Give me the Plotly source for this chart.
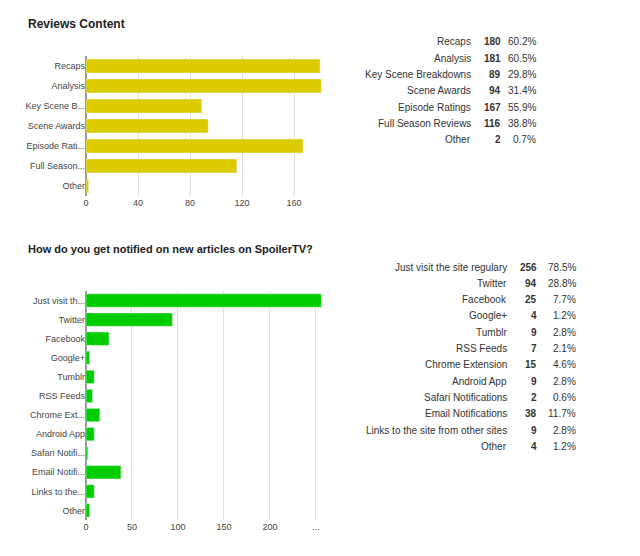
import plotly.graph_objects as go

W, H = 640, 556

# Reviews content
rev_labels = ["Recaps", "Analysis", "Key Scene Breakdowns", "Scene Awards",
              "Episode Ratings", "Full Season Reviews", "Other"]
rev_short = ["Recaps", "Analysis", "Key Scene B...", "Scene Awards",
             "Episode Rati...", "Full Season...", "Other"]
rev_counts = [180, 181, 89, 94, 167, 116, 2]
rev_pct = ["60.2%", "60.5%", "29.8%", "31.4%", "55.9%", "38.8%", "0.7%"]

# Notification channels
not_labels = ["Just visit the site regulary", "Twitter", "Facebook", "Google+", "Tumblr",
              "RSS Feeds", "Chrome Extension", "Android App", "Safari Notifications",
              "Email Notifications", "Links to the site from other sites", "Other"]
not_short = ["Just visit th...", "Twitter", "Facebook", "Google+", "Tumblr", "RSS Feeds",
             "Chrome Ext...", "Android App", "Safari Notifi...", "Email Notifi...",
             "Links to the...", "Other"]
not_counts = [256, 94, 25, 4, 9, 7, 15, 9, 2, 38, 9, 4]
not_pct = ["78.5%", "28.8%", "7.7%", "1.2%", "2.8%", "2.1%", "4.6%", "2.8%",
           "0.6%", "11.7%", "2.8%", "1.2%"]

def px_x(x):
    return x / W

def px_y(y):
    return 1 - y / H

fig = go.Figure()
fig.add_trace(go.Bar(x=rev_counts, y=rev_short, orientation="h",
                     marker_color="#dccb00", xaxis="x", yaxis="y"))
fig.add_trace(go.Bar(x=not_counts, y=not_short, orientation="h",
                     marker_color="#00cc00", xaxis="x2", yaxis="y2"))

axfont = dict(family="Arial", size=9, color="#444")
fig.update_layout(
    width=W, height=H, margin=dict(l=0, r=0, t=0, b=0),
    paper_bgcolor="white", plot_bgcolor="white", showlegend=False,
    bargap=0.3, font=dict(family="Arial"),
    xaxis=dict(domain=[px_x(78), px_x(318)], range=[0, 184.6], tickvals=[0, 40, 80, 120, 160],
               gridcolor="#ddd", zeroline=True, zerolinecolor="#999", tickfont=axfont,
               anchor="y", automargin=False),
    yaxis=dict(domain=[px_y(188), px_y(48)], autorange="reversed", tickfont=axfont,
               anchor="x", showgrid=False, ticks="", automargin=False),
    xaxis2=dict(domain=[px_x(78), px_x(318)], range=[0, 261],
                tickvals=[0, 50, 100, 150, 200, 250],
                ticktext=["0", "50", "100", "150", "200", "..."],
                gridcolor="#ddd", zeroline=True, zerolinecolor="#999", tickfont=axfont,
                anchor="y2", automargin=False),
    yaxis2=dict(domain=[px_y(512), px_y(283)], autorange="reversed", tickfont=axfont,
                anchor="x2", showgrid=False, ticks="", automargin=False),
)

ann = []
ann.append(dict(x=px_x(18), y=px_y(16), text="<b>Reviews Content</b>", showarrow=False,
                xref="paper", yref="paper",
                xanchor="left", yanchor="middle", font=dict(size=12, color="#222")))
ann.append(dict(x=px_x(18), y=px_y(241),
                text="<b>How do you get notified on new articles on SpoilerTV?</b>",
                xref="paper", yref="paper",
                showarrow=False, xanchor="left", yanchor="middle",
                font=dict(size=11, color="#222")))

def table(labels, counts, pcts, y0, cols):
    for i, (l, c, p) in enumerate(zip(labels, counts, pcts)):
        y = px_y(y0 + i * 16.3)
        for txt, xr, bold in [(l, cols[0], False), (str(c), cols[1], True), (p, cols[2], False)]:
            ann.append(dict(x=px_x(xr), y=y, text=f"<b>{txt}</b>" if bold else txt,
                            xref="paper", yref="paper",
                            showarrow=False, xanchor="right", yanchor="middle",
                            font=dict(size=10, color="#333")))

table(rev_labels, rev_counts, rev_pct, 34, (465, 495, 530))
table(not_labels, not_counts, not_pct, 259, (501, 531, 570))

fig.update_layout(annotations=ann)
fig.write_html("out.html")
